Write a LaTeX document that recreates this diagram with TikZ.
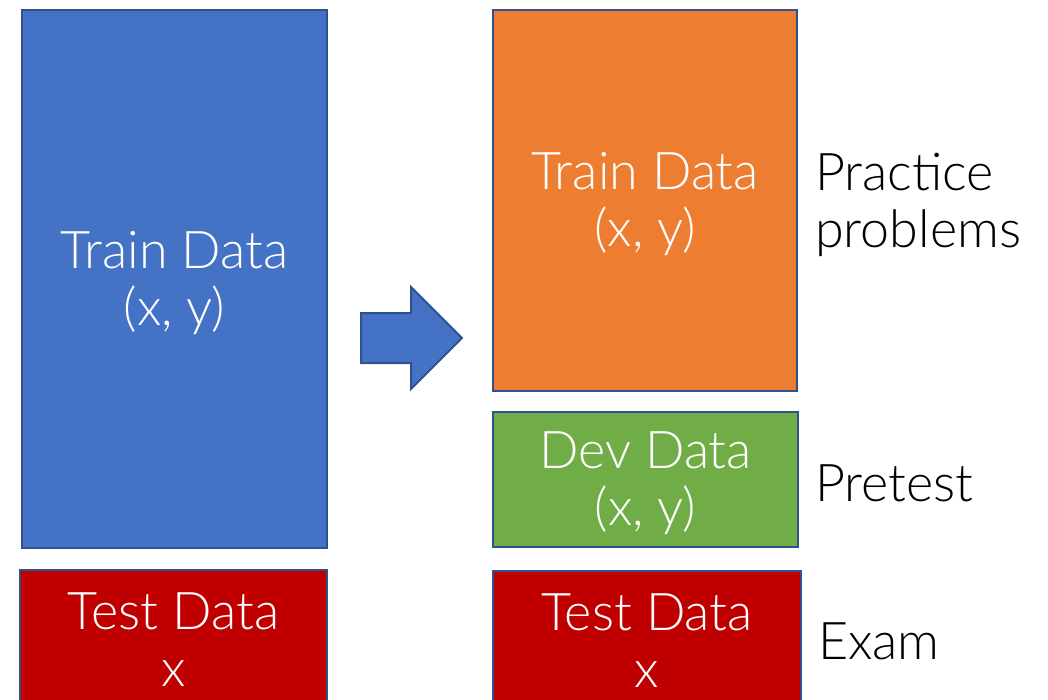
\documentclass[tikz,border=0pt]{standalone}
\usepackage{fontspec}
\setmainfont{Lato}[UprightFont={* Light}]
\usetikzlibrary{positioning}
\definecolor{edgeblue}{HTML}{2F528F}
\definecolor{trainblue}{HTML}{4472C4}
\definecolor{trainorange}{HTML}{ED7D31}
\definecolor{devgreen}{HTML}{70AD47}
\definecolor{testred}{HTML}{C00000}
\tikzset{
  bigtext/.style={font=\fontsize{52}{57}\selectfont},
  databox/.style={draw=edgeblue, line width=2pt, inner sep=0pt},
  boxtext/.style={bigtext, text=white, align=center, inner sep=0pt, yshift=-4pt},
  rolelabel/.style={bigtext, anchor=west, align=left, inner sep=0pt, yshift=-4pt},
}
\begin{document}
\begin{tikzpicture}[x=1pt, y=-1pt]
\useasboundingbox (0,0) rectangle (1048,700);
% left column: the full training set and the held-out test set
\node[databox, fill=trainblue, minimum width=305pt, minimum height=538pt,
  label={[boxtext]center:Train Data\\(x, y)}] (train) at (174.5,279) {};
\node[databox, fill=testred, minimum width=307pt, minimum height=132pt,
  label={[boxtext]center:Test Data\\x}] (test) at (173.5,636) {};
% block arrow between the columns
\draw[edgeblue, line width=2pt, fill=trainblue, line join=miter]
  (361,313) -- (411,313) -- (411,287) -- (462,338) -- (411,389)
  -- (411,363) -- (361,363) -- cycle;
% right column: training set split into train and dev
\node[databox, fill=trainorange, minimum width=304pt, minimum height=381pt,
  label={[boxtext]center:Train Data\\(x, y)}] (train2) at (645,200.5) {};
\node[databox, fill=devgreen, minimum width=305pt, minimum height=135pt,
  label={[boxtext]center:Dev Data\\(x, y)}] (dev) at (645.5,479.5) {};
\node[databox, fill=testred, minimum width=308pt, minimum height=132pt,
  label={[boxtext]center:Test Data\\x}] (test2) at (647,637) {};
% roles of each split
\node[rolelabel, right=17pt of train2] (practice) {Practice\\problems};
\node[rolelabel, right=16pt of dev] (pretest) {Pretest};
\node[rolelabel, right=16pt of test2] (exam) {Exam};
\end{tikzpicture}
\end{document}
